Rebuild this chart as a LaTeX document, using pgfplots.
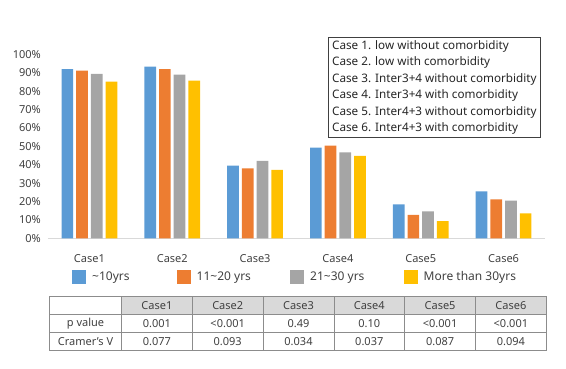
\documentclass[border=0pt]{standalone}
\usepackage{pgfplots}
\pgfplotsset{compat=1.18}
\usepackage{fontspec}
\setmainfont{Noto Sans}
\usetikzlibrary{matrix}
\definecolor{cBlue}{HTML}{5B9BD5}
\definecolor{cOrange}{HTML}{ED7D31}
\definecolor{cGray}{HTML}{A5A5A5}
\definecolor{cYellow}{HTML}{FFC000}
\definecolor{txt}{HTML}{404040}
\definecolor{cAxis}{HTML}{D9D9D9}
\definecolor{hdr}{HTML}{D9D9D9}
\definecolor{tabline}{HTML}{8C8C8C}
\begin{document}
\begin{tikzpicture}[x=1pt,y=1pt]
\begin{axis}[
  scale only axis, width=497pt, height=183.8pt,
  xmin=0.5, xmax=6.5, ymin=0, ymax=100,
  ybar=3pt, bar width=11.7pt,
  axis x line*=bottom, axis y line*=left,
  y axis line style={draw=none},
  x axis line style={draw=cAxis, line width=0.75pt, -},
  major tick length=0pt,
  xtick={1,2,3,4,5,6},
  xticklabels={Case1,Case2,Case3,Case4,Case5,Case6},
  ytick={0,10,...,100},
  yticklabel={\pgfmathprintnumber{\tick}\%},
  /pgf/number format/assume math mode=true,
  tick label style={font=\fontsize{11}{12}\selectfont, text=txt},
  yticklabel style={anchor=east, inner sep=0pt, xshift=-7pt},
  xticklabel style={anchor=north, inner sep=0pt, yshift=-16.5pt},
  legend columns=4,
  legend style={draw=none, fill=none, at={(0.0483,-0.2106)}, anchor=west,
    font=\fontsize{12}{13}\selectfont, text=txt, inner sep=0pt,
    /tikz/every odd column/.append style={column sep=4pt},
    /tikz/every even column/.append style={column sep=0pt}},
  legend image code/.code={\fill[#1] (0pt,-7pt) rectangle (14pt,7pt);},
]
\addplot[fill=cBlue, draw=none] coordinates {(1,92.1) (2,93.4) (3,39.5) (4,49.3) (5,18.5) (6,25.6)};
\addlegendentry{\makebox[82.5pt][l]{\textasciitilde10yrs}}
\addplot[fill=cOrange, draw=none] coordinates {(1,91.2) (2,92.0) (3,38.1) (4,50.4) (5,12.7) (6,21.2)};
\addlegendentry{\makebox[91.5pt][l]{11\textasciitilde20 yrs}}
\addplot[fill=cGray, draw=none] coordinates {(1,89.4) (2,89.0) (3,42.1) (4,46.8) (5,14.7) (6,20.5)};
\addlegendentry{\makebox[91.5pt][l]{21\textasciitilde30 yrs}}
\addplot[fill=cYellow, draw=none] coordinates {(1,85.2) (2,85.8) (3,37.2) (4,44.8) (5,9.4) (6,13.6)};
\addlegendentry{More than 30yrs}
\end{axis}
\node[draw=black!75, line width=0.75pt, anchor=north west, align=left,
  inner xsep=3pt, inner ysep=1.5pt, minimum width=212pt, minimum height=100pt,
  font=\fontsize{11.7}{16.5}\selectfont, text=black!85] at (280,201.3)
  {Case 1. low without comorbidity\\Case 2. low with comorbidity\\Case 3. Inter3+4 without comorbidity\\Case 4. Inter3+4 with comorbidity\\Case 5. Inter4+3 without comorbidity\\Case 6. Inter4+3 with comorbidity};
\matrix[matrix of nodes, nodes in empty cells, anchor=north west, inner sep=0pt,
  column sep=-0.6pt, row sep=-0.6pt,
  nodes={draw=tabline, line width=0.6pt, minimum height=18pt, minimum width=70.8pt,
    inner sep=0pt, anchor=center, font=\fontsize{11}{12}\selectfont, text=txt},
  row 1/.style={nodes={fill=hdr}},
  row 1 column 1/.style={nodes={fill=white}},
  column 1/.style={nodes={minimum width=72pt}}]
  at (1,-57.7) {
   & Case1 & Case2 & Case3 & Case4 & Case5 & Case6 \\
  p value & 0.001 & <0.001 & 0.49 & 0.10 & <0.001 & <0.001 \\
  Cramer's V & 0.077 & 0.093 & 0.034 & 0.037 & 0.087 & 0.094 \\
};
\useasboundingbox (-48,-129.7) rectangle (518,238.3);
\end{tikzpicture}
\end{document}
